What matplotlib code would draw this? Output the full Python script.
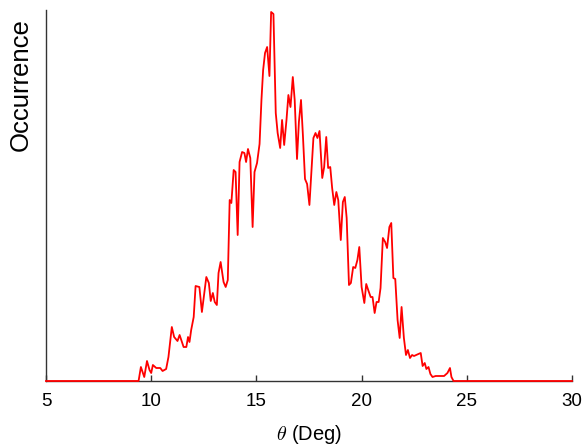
import matplotlib
matplotlib.use("Agg")
import matplotlib.pyplot as plt

plt.rcParams['font.family'] = ['Liberation Sans', 'DejaVu Sans']
plt.rcParams['mathtext.fontset'] = 'cm'

theta_deg = [5.0, 9.40, 9.51, 9.67, 9.80, 9.92, 10.00, 10.08, 10.24, 10.43, 10.54, 10.71, 10.82,
             10.98, 11.09, 11.25, 11.35, 11.54, 11.67, 11.75, 11.82, 11.90, 12.02, 12.11, 12.29,
             12.41, 12.62, 12.74, 12.83, 12.93, 13.02, 13.12, 13.20, 13.30, 13.44, 13.54, 13.64,
             13.73, 13.81, 13.92, 14.01, 14.11, 14.20, 14.32, 14.43, 14.51, 14.60, 14.71, 14.82,
             14.91, 15.03, 15.15, 15.24, 15.32, 15.41, 15.51, 15.62, 15.70, 15.81, 15.92, 16.01,
             16.13, 16.22, 16.32, 16.43, 16.52, 16.62, 16.73, 16.82, 16.93, 17.02, 17.12, 17.21,
             17.31, 17.41, 17.52, 17.62, 17.71, 17.81, 17.90, 18.00, 18.13, 18.22, 18.32, 18.41,
             18.51, 18.60, 18.70, 18.80, 18.89, 19.01, 19.11, 19.20, 19.29, 19.40, 19.49, 19.60,
             19.70, 19.80, 19.89, 20.00, 20.13, 20.22, 20.33, 20.43, 20.52, 20.62, 20.71, 20.81,
             20.90, 21.01, 21.12, 21.21, 21.32, 21.41, 21.51, 21.60, 21.71, 21.81, 21.90, 22.01,
             22.11, 22.20, 22.30, 22.40, 22.49, 22.59, 22.70, 22.81, 22.90, 23.00, 23.08, 23.18,
             23.27, 23.37, 23.52, 23.92, 24.08, 24.20, 24.27, 24.37, 30.0]

occurrence = [0, 0, 14, 4, 20, 11, 8, 16, 13, 13, 10, 12, 24,
              54, 44, 40, 46, 34, 34, 44, 39, 51, 64, 95, 94,
              69, 104, 98, 80, 88, 79, 76, 108, 119, 99, 94, 101,
              181, 178, 211, 209, 146, 219, 229, 228, 219, 232, 223, 154,
              209, 218, 237, 281, 311, 328, 334, 305, 369, 367, 268, 248,
              233, 261, 236, 261, 286, 274, 304, 281, 222, 259, 281, 246,
              202, 197, 176, 211, 243, 248, 243, 250, 203, 214, 244, 213,
              214, 193, 176, 189, 181, 141, 179, 184, 163, 96, 98, 114,
              113, 121, 134, 94, 78, 97, 90, 84, 84, 68, 79, 79,
              93, 143, 139, 133, 154, 158, 103, 102, 61, 43, 74, 43,
              26, 31, 23, 26, 25, 26, 27, 28, 15, 18, 12, 14,
              7, 4, 5, 5, 8, 13, 4, 0, 0]

x_ticks = [5, 10, 15, 20, 25, 30]

fig = plt.figure(figsize=(5.87, 4.45), dpi=100)
ax = fig.add_axes([46 / 587, 1 - 381 / 445, 526 / 587, 371 / 445])
ax.plot(theta_deg, occurrence, color='#ff0000', lw=1.3, clip_on=False, zorder=3)

ax.set_xlim(5, 30)
ax.set_ylim(0, 371)
ax.set_xticks(x_ticks)
ax.set_xticklabels([str(t) for t in x_ticks])
ax.set_yticks([])
ax.tick_params(axis='x', direction='in', length=4, width=1, labelsize=13.5, pad=9, color='#333333')
ax.spines['top'].set_visible(False)
ax.spines['right'].set_visible(False)
for s in ('left', 'bottom'):
    ax.spines[s].set_color('#333333')
    ax.spines[s].set_linewidth(1.0)

ax.set_ylabel('Occurrence', fontsize=18.5)
ax.yaxis.set_label_coords(-0.025, 0.80)
ax.set_xlabel(r'$\theta$ (Deg)', fontsize=14.5)
ax.xaxis.set_label_coords(0.5, -0.112)

fig.savefig('out.png', dpi=100)
